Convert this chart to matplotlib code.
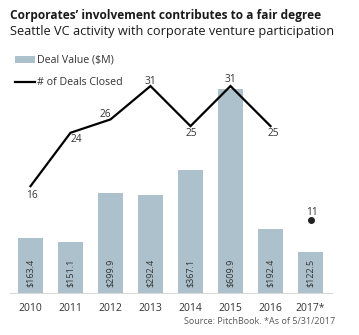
import matplotlib
matplotlib.use("Agg")
import matplotlib.pyplot as plt
from matplotlib.lines import Line2D
from matplotlib.patches import Patch

plt.rcParams['font.family'] = ['Open Sans', 'DejaVu Sans']

years = ['2010', '2011', '2012', '2013', '2014', '2015', '2016', '2017*']
deal_value = [163.4, 151.1, 299.9, 292.4, 367.1, 609.9, 192.4, 122.5]
deal_count = [16, 24, 26, 31, 25, 31, 25, 11]

bar_color = '#ADC1CC'
text_color = '#333333'

W, H = 359, 335
fig = plt.figure(figsize=(W / 100, H / 100), dpi=100)

# axes box in pixels: left 10, right 332, baseline 293, top 60
left, right, base, top = 10, 332, 293, 60
ax = fig.add_axes([left / W, (H - base) / H, (right - left) / W, (base - top) / H])
ax2 = ax.twinx()

x = list(range(len(years)))
ax.bar(x, deal_value, width=0.625, color=bar_color, zorder=1)
ax.set_xlim(-0.5125, 7.5375)
ax.set_ylim(0, 696.6)

# secondary axis for deal counts
ax2.set_ylim(0, 34.9)
ax2.plot(x[:-1], deal_count[:-1], color='black', lw=1.6, solid_joinstyle='miter', zorder=3)
ax2.plot(x[-1], deal_count[-1], 'o', color='#222222', ms=4, zorder=3)

# value labels inside bars
for xi, v in zip(x, deal_value):
    ax.annotate(f'${v:.1f}', (xi, 0), xytext=(0, 4.5), textcoords='offset points',
                rotation=90, ha='center', va='bottom', fontsize=6.5, color=text_color)

# count labels near the line points (offsets in points)
offsets = [(1, -6.5), (4, -5), (-4, 3.5), (0, 3.5), (0.5, -5), (0, 5), (2, -5), (1, 5)]
for xi, c, (dx, dy) in zip(x, deal_count, offsets):
    ax2.annotate(str(c), (xi, c), xytext=(dx, dy), textcoords='offset points',
                 ha='center', va='center', fontsize=7.3, color=text_color)

for a in (ax, ax2):
    for s in ('top', 'right', 'left'):
        a.spines[s].set_visible(False)
    a.set_yticks([])
ax2.spines['bottom'].set_visible(False)
ax.spines['bottom'].set_color('#D9D9D9')
ax.spines['bottom'].set_linewidth(0.8)
ax.set_xticks(x)
ax.set_xticklabels(years, fontsize=7.5, color=text_color)
ax.tick_params(axis='x', length=0, pad=7)

handles = [Patch(facecolor=bar_color, edgecolor='none'),
           Line2D([0], [0], color='black', lw=1.6)]
fig.legend(handles, ['Deal Value ($M)', '# of Deals Closed'],
           loc='upper left', bbox_to_anchor=(15 / W, 1 - 55 / H),
           frameon=False, fontsize=7.7, handlelength=1.9, handleheight=0.65,
           handletextpad=0.2, labelspacing=1.05, borderaxespad=0, borderpad=0,
           labelcolor=text_color)

fig.text(10 / W, 1 - 15 / H, "Corporates\u2019 involvement contributes to a fair degree",
         fontsize=8.6, fontweight='bold', color='#1A1A1A', ha='left', va='center')
fig.text(10 / W, 1 - 31 / H, "Seattle VC activity with corporate venture participation",
         fontsize=9.2, color='#1A1A1A', ha='left', va='center')
fig.text(335 / W, 1 - 321 / H, "Source: PitchBook. *As of 5/31/2017",
         fontsize=6.5, color='#595959', ha='right', va='center')

fig.savefig('out.png', dpi=100)
